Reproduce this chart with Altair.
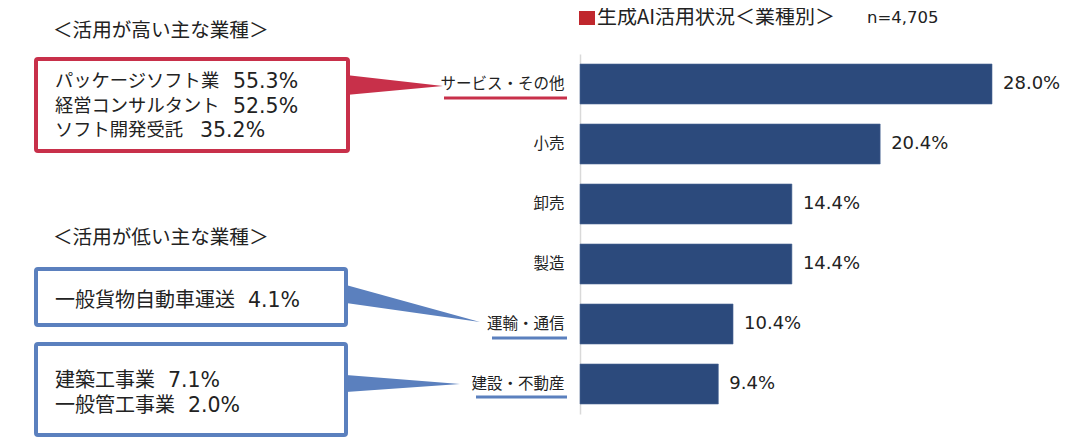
import altair as alt
import pandas as pd

FONT = "Noto Sans CJK JP"
NUMFONT = "DejaVu Sans"

# ---- data ----
categories = ["サービス・その他", "小売", "卸売", "製造", "運輸・通信", "建設・不動産"]
values = [28.0, 20.4, 14.4, 14.4, 10.4, 9.4]

title_text = "生成AI活用状況＜業種別＞"
n_text = "n=4,705"

high_heading = "＜活用が高い主な業種＞"
high_names = ["パッケージソフト業", "経営コンサルタント", "ソフト開発受託"]
high_pcts = ["55.3%", "52.5%", "35.2%"]

low_heading = "＜活用が低い主な業種＞"
low_names_1 = ["一般貨物自動車運送"]
low_pcts_1 = ["4.1%"]
low_names_2 = ["建築工事業", "一般管工事業"]
low_pcts_2 = ["7.1%", "2.0%"]

NAVY = "#2c4a7c"
RED = "#c8304a"
BLUE = "#5b80be"
TXT = "#222222"

df = pd.DataFrame({"cat": categories, "val": values})

y_enc = alt.Y(
    "cat:N",
    sort=categories,
    scale=alt.Scale(paddingInner=1 / 3, paddingOuter=1 / 6),
    axis=alt.Axis(
        title=None,
        ticks=False,
        labelFont=FONT,
        labelFontSize=15.5,
        labelColor=TXT,
        labelPadding=16,
        domainColor="#d9d9d9",
        domainWidth=1.5,
    ),
)
x_enc = alt.X("val:Q", scale=alt.Scale(domain=[0, 28], nice=False), axis=None)

bars = alt.Chart(df).mark_bar(color=NAVY, stroke="#4a6796", strokeWidth=0.6).encode(x=x_enc, y=y_enc)

labels = (
    alt.Chart(df)
    .transform_calculate(lbl="format(datum.val, '.1f') + '%'")
    .mark_text(align="left", baseline="middle", dx=11, font=NUMFONT, fontSize=18, color=TXT)
    .encode(x=x_enc, y=alt.Y("cat:N", sort=categories), text="lbl:N")
)

one = alt.Data(values=[{"k": 1}])


def txt(s, x, y, size, color=TXT, align="left", font=FONT):
    return alt.Chart(one).mark_text(
        align=align, baseline="middle", font=font, fontSize=size, color=color
    ).encode(x=alt.value(x), y=alt.value(y), text=alt.value(s))


def box(x1, x2, y1, y2, color):
    return alt.Chart(one).mark_rect(
        fill="white", stroke=color, strokeWidth=4, cornerRadius=2
    ).encode(x=alt.value(x1), x2=alt.value(x2), y=alt.value(y1), y2=alt.value(y2))


def tri(x, y, path, color):
    return alt.Chart(one).mark_point(
        shape=path, size=4, filled=True, fill=color, strokeWidth=0, opacity=1
    ).encode(x=alt.value(x), y=alt.value(y))


def uline(x1, x2, y, color):
    return alt.Chart(one).mark_rule(color=color, strokeWidth=3).encode(
        x=alt.value(x1), x2=alt.value(x2), y=alt.value(y)
    )


layers = [bars, labels]

# title
layers.append(
    alt.Chart(one).mark_rect(fill="#c0272d").encode(
        x=alt.value(-1), x2=alt.value(15), y=alt.value(-43), y2=alt.value(-29)
    )
)
layers.append(txt(title_text, 17, -36, 20))
layers.append(txt(n_text, 287, -36, 16.5, font=NUMFONT))

# high group
layers.append(txt(high_heading, -527, -23, 19.6))
layers.append(box(-544, -232, 5, 97, RED))
high_num_x = [-347, -347, -380]
for i, (s, p) in enumerate(zip(high_names, high_pcts)):
    yy = 28 + i * 24.5
    layers.append(txt(s, -525, yy, 18.3))
    layers.append(txt(p, high_num_x[i], yy, 20.5, font=NUMFONT))
layers.append(tri(-137, 32, "M0,0 L-97,-11 L-97,9 Z", RED))
layers.append(uline(-136, -13, 44, RED))

# low group
layers.append(txt(low_heading, -527, 184, 19.6))
layers.append(box(-544, -234, 215, 271, BLUE))
for s, p in zip(low_names_1, low_pcts_1):
    layers.append(txt(s, -525, 247, 20))
    layers.append(txt(p, -332, 247, 20.5, font=NUMFONT))
layers.append(box(-544, -234, 290, 381, BLUE))
low_num_x = [-412, -392]
for i, (s, p) in enumerate(zip(low_names_2, low_pcts_2)):
    yy = 327 + i * 24.5
    layers.append(txt(s, -525, yy, 20))
    layers.append(txt(p, low_num_x[i], yy, 20.5, font=NUMFONT))
layers.append(tri(-100, 268, "M0,0 L-134,-37 L-134,-19 Z", BLUE))
layers.append(uline(-88, -13, 284, BLUE))
layers.append(tri(-120, 330, "M0,0 L-114,-9 L-114,8 Z", BLUE))
layers.append(uline(-104, -13, 343, BLUE))

chart = (
    alt.layer(*layers)
    .properties(
        width=412,
        height=360,
        autosize=alt.AutoSizeParams(type="none"),
        padding={"left": 572, "top": 46, "right": 80, "bottom": 31},
        background="white",
    )
    .configure_view(strokeWidth=0)
)

chart.save("out.html", embed_options={"renderer": "svg", "actions": False})
